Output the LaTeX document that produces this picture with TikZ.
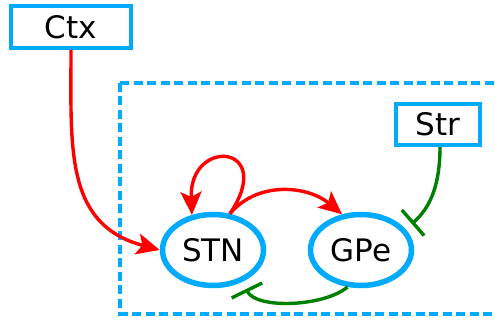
\documentclass[tikz,border=0pt]{standalone}
\usepackage{fontspec}
\setmainfont{DejaVu Sans}
\usetikzlibrary{arrows.meta,shapes.geometric}
\definecolor{cblue}{RGB}{0,170,255}
\definecolor{cred}{RGB}{255,0,0}
\definecolor{cgreen}{RGB}{0,128,0}
\begin{document}
\begin{tikzpicture}[x=1pt,y=1pt,
  font=\fontsize{31}{37}\selectfont,
  boxnode/.style={draw=cblue,line width=4pt,rectangle,inner sep=0pt},
  cell/.style={draw=cblue,line width=5.5pt,ellipse,inner sep=0pt,minimum width=101pt,minimum height=71pt},
  excite/.style={draw=cred,line width=3.4pt,-{Stealth[length=23pt,width=21pt,inset=5pt]}},
  inhib/.style={draw=cgreen,line width=3.4pt,-{Bar[width=34pt]},shorten >=8pt}]
\clip (0,0) rectangle (495,320);
\draw[cblue,line width=4pt,dash pattern=on 9pt off 4.5pt] (120,237) -- (120,6) -- (520,6);
\draw[cblue,line width=4pt,dash pattern=on 9pt off 4.5pt] (120,237) -- (520,237);
\node[boxnode,minimum width=120pt,minimum height=42pt] (ctx) at (71,293) {Ctx};
\node[boxnode,minimum width=84pt,minimum height=41pt] (str) at (438,195.5) {Str};
\node[cell] (stn) at (213,70) {STN};
\node[cell] (gpe) at (361,70) {GPe};
\draw[excite] (ctx.south) to[out=-90,in=165,looseness=1.15] (stn.west);
\draw[excite] (stn.65) .. controls +(47,70) and +(-3,78) .. (stn.121);
\draw[excite] (stn.65) to[out=50,in=140] (gpe.118);
\draw[inhib] (gpe.250) to[out=220,in=-64,looseness=0.75] (stn.-47);
\draw[inhib] ([xshift=2pt]str.south) to[out=-90,in=41] (gpe.25);
\end{tikzpicture}
\end{document}
